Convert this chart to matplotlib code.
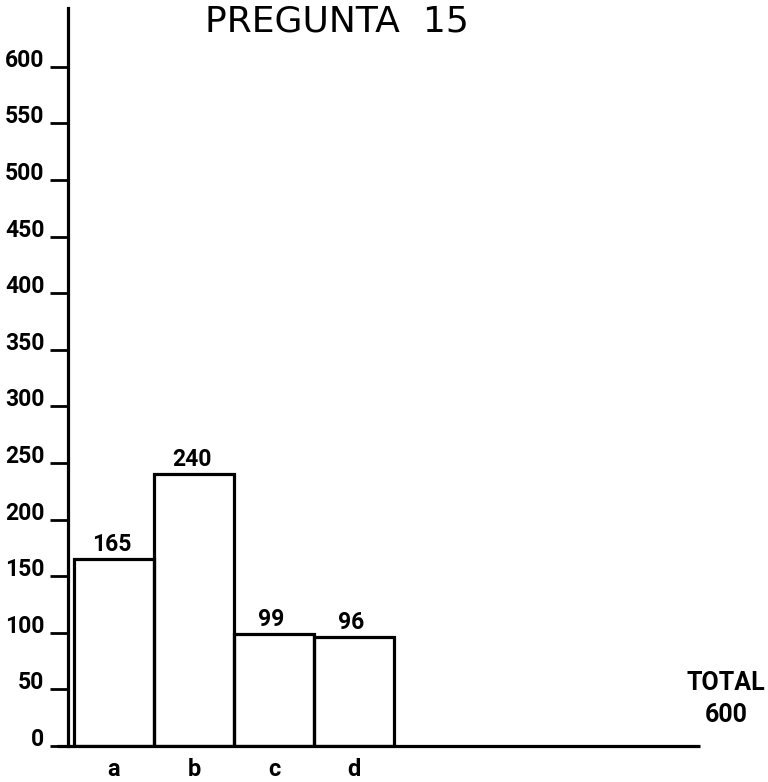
import matplotlib
matplotlib.use("Agg")
import matplotlib.pyplot as plt

categories = ["a", "b", "c", "d"]
values = [165, 240, 99, 96]
value_labels = ["165", "240", "99", "96"]
yticks = [0, 50, 100, 150, 200, 250, 300, 350, 400, 450, 500, 550, 600]
title = "PREGUNTA  15"
total_label = "TOTAL\n600"

NUMF = ['Roboto', 'DejaVu Sans']
plt.rcParams['font.family'] = ['DejaVu Sans']

fig = plt.figure(figsize=(7.68, 7.82), dpi=100)
ax = fig.add_axes([68/768, (782-746)/782, (700-68)/768, (746-8)/782])

x = list(range(len(categories)))
ax.bar(x, values, width=1.0, fill=False, edgecolor='black', linewidth=2.3)

ax.set_xlim(-0.575, 7.325)
ax.set_ylim(0, 652)

for s in ['top', 'right', 'bottom']:
    ax.spines[s].set_visible(False)
ax.spines['left'].set_linewidth(2.3)

# baseline extending a bit left of the y axis
ax.plot([-0.017, 1.0], [0, 0], color='black', linewidth=2.3,
        transform=ax.get_yaxis_transform(), clip_on=False, solid_capstyle='butt')

ax.set_yticks(yticks)
ax.set_yticklabels([str(v) for v in yticks], fontsize=16.5, fontweight='bold', family=NUMF)
ax.tick_params(axis='y', direction='out', length=13, width=2, pad=4)
for lab in ax.get_yticklabels():
    lab.set_verticalalignment('baseline')

ax.set_xticks(x)
ax.set_xticklabels(categories, fontsize=17, fontweight='bold', family=NUMF)
ax.tick_params(axis='x', length=0, pad=9)

for xi, v, lab in zip(x, values, value_labels):
    ax.text(xi - 0.03, v + 7, lab, ha='center', va='baseline', fontsize=16.5,
            fontweight='bold', family=NUMF)

fig.text(337/768, 1 - 21/782, title, ha='center', va='center', fontsize=26)
fig.text(726/768, 1 - 699/782, total_label, ha='center', va='center',
         fontsize=18, fontweight='bold', family=NUMF, linespacing=1.4)

fig.savefig("out.png", dpi=100)
